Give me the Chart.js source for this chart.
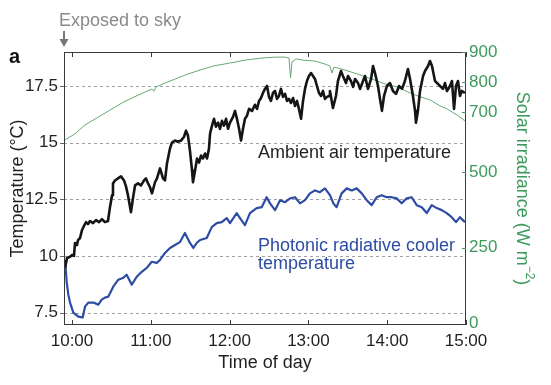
<!DOCTYPE html>
<html>
<head>
<meta charset="utf-8">
<script src="https://cdn.jsdelivr.net/npm/chart.js@4.4.0/dist/chart.umd.min.js"></script>
<style>
  body { margin: 0; background: #fff; }
  #wrap { width: 551px; height: 385px; }
</style>
</head>
<body>
<div id="wrap"><canvas id="coolerChart" width="551" height="385"></canvas></div>
<script>
// minutes after 10:00
const ambientMinutes = [-5.3, -3.8, -1.5, 0, 1.5, 2.3, 3.8, 4.6, 6.1, 7.6,
    9.1, 10.7, 12.2, 13.7, 16.0, 18.3, 20.6, 22.8, 25.1, 27.4,
    28.9, 30.5, 31.2, 32.7, 35.0, 37.3, 39.6, 41.1, 42.6, 44.9,
    46.4, 48.0, 50.3, 52.5, 54.8, 56.3, 57.9, 59.4, 60.9, 63.2,
    64.7, 67.0, 69.3, 70.8, 72.3, 74.6, 76.1, 78.4, 80.7, 83.0,
    85.3, 86.8, 88.3, 89.8, 91.4, 92.1, 93.7, 95.2, 96.7, 98.2,
    99.7, 101.3, 102.8, 104.3, 105.1, 106.6, 108.1, 109.6, 111.2, 112.7,
    114.2, 115.7, 117.3, 118.8, 120.3, 122.6, 124.1, 125.6, 127.2, 128.7,
    130.2, 131.7, 133.2, 134.8, 137.1, 139.3, 140.9, 142.4, 143.9, 145.4,
    146.9, 148.5, 150.0, 151.5, 153.0, 154.6, 156.1, 157.6, 159.1, 160.7,
    162.2, 163.7, 165.2, 166.7, 168.3, 169.8, 171.3, 172.8, 174.4, 175.9,
    177.4, 178.9, 180.4, 182.0, 183.5, 185.0, 186.5, 188.1, 189.6, 191.1,
    192.6, 194.2, 195.7, 196.4, 198.7, 201.0, 202.5, 204.8, 206.3, 208.6,
    210.1, 212.4, 214.0, 215.5, 217.8, 219.3, 221.6, 223.1, 225.4, 227.7,
    229.2, 230.7, 233.0, 234.5, 236.0, 237.6, 239.8, 242.1, 244.4, 246.7,
    249.0, 251.3, 253.5, 255.8, 257.4, 259.6, 261.2, 261.9, 263.4, 265.0,
    267.3, 268.8, 271.1, 272.6, 274.1, 276.4, 278.7, 280.2, 282.5, 284.0,
    285.5, 287.8, 289.3, 290.9, 292.4, 293.9, 295.4, 296.9, 299.2];
const ambientTemp = [9.47, 9.91, 9.96, 10.04, 10.00, 10.57, 10.48, 10.70, 10.79, 11.14,
    11.32, 11.49, 11.40, 11.54, 11.45, 11.58, 11.49, 11.62, 11.49, 11.54,
    12.15, 12.68, 13.20, 13.33, 13.42, 13.51, 13.33, 13.07, 12.68, 11.93,
    12.54, 13.11, 13.20, 13.11, 13.33, 13.42, 13.20, 13.03, 12.76, 13.25,
    13.42, 13.86, 13.42, 13.33, 14.08, 14.74, 15.00, 15.09, 15.04, 15.09,
    15.26, 15.53, 15.31, 14.65, 13.77, 13.25, 13.77, 14.30, 14.12, 14.43,
    14.30, 14.52, 14.30, 14.74, 15.39, 15.75, 16.05, 15.70, 15.88, 15.61,
    15.96, 15.75, 16.05, 15.61, 15.88, 16.14, 16.40, 16.05, 15.61, 15.09,
    15.61, 16.05, 16.18, 16.49, 16.40, 16.67, 16.49, 16.84, 16.97, 17.19,
    17.37, 17.50, 17.02, 16.84, 17.19, 17.28, 16.93, 17.06, 17.37, 17.02,
    17.15, 16.84, 16.93, 16.75, 16.97, 16.62, 16.84, 16.49, 16.05, 16.84,
    17.37, 17.72, 17.94, 18.07, 17.94, 17.81, 17.50, 17.19, 17.06, 17.28,
    16.93, 17.02, 17.06, 17.28, 16.53, 17.06, 17.72, 18.16, 17.94, 17.63,
    17.94, 17.72, 17.46, 17.81, 17.63, 17.37, 17.72, 17.94, 17.37, 17.81,
    18.38, 18.07, 17.50, 16.93, 16.40, 17.06, 17.50, 17.63, 17.28, 17.15,
    17.50, 17.37, 17.72, 18.25, 17.81, 17.06, 16.40, 15.88, 16.40, 17.28,
    17.94, 18.16, 18.38, 18.60, 18.38, 17.72, 17.59, 17.50, 17.37, 17.63,
    17.28, 17.50, 17.72, 16.49, 17.50, 17.72, 17.06, 17.28, 17.19];

const coolerMinutes = [-5.3, -4.0, -2.8, -1.5, 1.0, 4.8, 8.1, 9.9, 12.4, 16.2,
    20.0, 22.6, 25.1, 27.6, 31.4, 35.3, 39.1, 41.6, 45.5, 49.3,
    53.1, 56.9, 60.7, 64.5, 67.0, 70.8, 74.6, 78.4, 82.2, 86.0,
    89.8, 92.4, 94.9, 97.5, 102.6, 106.4, 110.2, 114.0, 117.8, 120.3,
    125.4, 127.9, 131.7, 135.5, 140.6, 144.4, 148.2, 150.8, 154.6, 158.4,
    162.2, 166.0, 169.8, 173.6, 177.4, 181.2, 185.0, 188.8, 192.6, 196.4,
    199.0, 201.5, 205.3, 209.2, 213.0, 216.8, 220.6, 224.4, 228.2, 232.0,
    235.8, 239.6, 243.4, 247.2, 251.0, 254.8, 258.6, 262.5, 266.3, 270.1,
    273.9, 277.7, 281.5, 285.3, 289.1, 292.4, 295.4, 299.2];
const coolerTemp = [9.82, 8.82, 8.29, 7.94, 7.50, 7.32, 7.28, 7.76, 7.94, 7.94,
    7.85, 8.07, 8.16, 8.20, 8.64, 8.95, 9.04, 9.17, 8.73, 9.08,
    9.30, 9.47, 9.74, 9.69, 9.82, 10.13, 10.35, 10.48, 10.61, 11.01,
    10.57, 10.35, 10.57, 10.70, 10.79, 11.27, 11.45, 11.49, 11.67, 11.45,
    11.89, 11.67, 11.36, 11.89, 12.11, 12.15, 12.59, 12.32, 12.02, 12.46,
    12.37, 12.54, 12.59, 12.32, 12.46, 12.76, 12.89, 12.81, 12.98, 12.68,
    12.32, 12.15, 12.76, 12.98, 12.89, 12.98, 12.76, 12.46, 12.24, 12.59,
    12.68, 12.59, 12.59, 12.54, 12.32, 12.54, 12.59, 12.24, 12.15, 11.89,
    12.24, 12.11, 12.02, 11.89, 11.71, 11.49, 11.71, 11.49];

const solarMinutes = [-5.3, 2.3, 9.9, 19.0, 28.9, 38.1, 48.0, 55.6, 60.9, 62.4,
    64.0, 70.8, 78.4, 88.3, 97.5, 108.1, 119.9, 131.7, 144.7, 154.6,
    162.2, 165.2, 166.4, 167.5, 170.6, 175.9, 185.0, 192.6, 196.4, 198.0,
    199.5, 207.9, 219.3, 228.4, 238.3, 247.5, 257.4, 265.0, 272.6, 280.2,
    285.5, 289.3, 293.1, 296.2, 299.2];
const solarIrradiance = [608, 628, 658, 681, 707, 731, 752, 767, 777, 770,
    784, 797, 810, 827, 840, 854, 863, 873, 880, 883,
    883, 880, 814, 867, 877, 873, 870, 860, 853, 830,
    850, 840, 824, 810, 794, 784, 764, 751, 741, 721,
    711, 701, 691, 681, 671];

const timeTicks = [0, 60, 120, 180, 240, 300];
const tempTicks = [7.5, 10, 12.5, 15, 17.5];
const solarTicks = [0, 250, 500, 700, 800, 900];

const FONT = '"Liberation Sans", Arial, sans-serif';
const GREEN = '#3e9a5c';
const BLUE = '#2d4da5';
const TEXT = '#231f20';

function pairs(xs, ys) {
    return xs.map((x, i) => ({ x: x, y: ys[i] }));
}

// gridlines, frame, ticks and text labels
const overlay = {
    id: 'overlay',
    beforeDatasetsDraw(chart) {
        const { ctx, chartArea: a, scales } = chart;
        ctx.save();
        ctx.strokeStyle = '#a0a0a0';
        ctx.lineWidth = 1;
        ctx.setLineDash([3, 3]);
        tempTicks.forEach(v => {
            const y = Math.round(scales.y.getPixelForValue(v)) + 0.5;
            ctx.beginPath();
            ctx.moveTo(a.left, y);
            ctx.lineTo(a.right, y);
            ctx.stroke();
        });
        ctx.restore();
    },
    afterDraw(chart) {
        const { ctx, chartArea: a, scales } = chart;
        ctx.save();
        // frame
        ctx.strokeStyle = '#3a3a3a';
        ctx.lineWidth = 1;
        ctx.strokeRect(a.left + 0.5, a.top + 0.5, a.right - a.left - 1, a.bottom - a.top - 1);

        // time ticks, pointing inwards top and bottom
        timeTicks.forEach(v => {
            const x = Math.round(scales.x.getPixelForValue(v)) + 0.5;
            ctx.beginPath();
            ctx.moveTo(x, a.bottom); ctx.lineTo(x, a.bottom - 5);
            ctx.moveTo(x, a.top); ctx.lineTo(x, a.top + 5);
            ctx.stroke();
        });
        // temperature ticks, outwards
        ctx.strokeStyle = '#666';
        tempTicks.forEach(v => {
            const y = Math.round(scales.y.getPixelForValue(v)) + 0.5;
            ctx.beginPath();
            ctx.moveTo(a.left - 4, y); ctx.lineTo(a.left, y);
            ctx.stroke();
        });
        // irradiance ticks, inwards
        ctx.strokeStyle = GREEN;
        solarTicks.slice(1).forEach(v => {
            const y = Math.round(scales.y2.getPixelForValue(v)) + 0.5;
            ctx.beginPath();
            ctx.moveTo(a.right - 4, y); ctx.lineTo(a.right, y);
            ctx.stroke();
        });

        // right axis title with superscript
        ctx.translate(522, (a.top + a.bottom) / 2);
        ctx.rotate(Math.PI / 2);
        ctx.fillStyle = GREEN;
        ctx.textBaseline = 'middle';
        const main = 'Solar irradiance (W m', sup = '\u22122', end = ')';
        ctx.font = '18px ' + FONT;
        const wMain = ctx.measureText(main).width, wEnd = ctx.measureText(end).width;
        ctx.font = '12px ' + FONT;
        const wSup = ctx.measureText(sup).width;
        let tx = -(wMain + wSup + wEnd) / 2;
        ctx.font = '18px ' + FONT;
        ctx.fillText(main, tx, 0);
        tx += wMain;
        ctx.font = '12px ' + FONT;
        ctx.fillText(sup, tx, -7);
        tx += wSup;
        ctx.font = '18px ' + FONT;
        ctx.fillText(end, tx, 0);
        ctx.setTransform(1, 0, 0, 1, 0, 0);

        // panel letter and exposure marker
        ctx.textBaseline = 'alphabetic';
        ctx.fillStyle = '#111';
        ctx.font = 'bold 20px ' + FONT;
        ctx.fillText('a', 9, 63);
        ctx.fillStyle = '#8a8a8a';
        ctx.font = '18px ' + FONT;
        ctx.fillText('Exposed to sky', 59, 26);
        ctx.fillStyle = '#777';
        ctx.fillRect(a.left - 1, 31, 2, 9);
        ctx.beginPath();
        ctx.moveTo(a.left - 4.5, 39); ctx.lineTo(a.left + 4.5, 39); ctx.lineTo(a.left, 47);
        ctx.closePath();
        ctx.fill();

        // series labels
        const lx = scales.x.getPixelForValue(141.6);
        ctx.fillStyle = TEXT;
        ctx.fillText('Ambient air temperature', lx, scales.y.getPixelForValue(14.3));
        ctx.fillStyle = BLUE;
        ctx.fillText('Photonic radiative cooler', lx, scales.y.getPixelForValue(10.22));
        ctx.fillText('temperature', lx, scales.y.getPixelForValue(9.4));
        ctx.restore();
    }
};

const ctx = document.getElementById('coolerChart').getContext('2d');
const chart = new Chart(ctx, {
    type: 'line',
    data: {
        datasets: [
            {
                label: 'Ambient air temperature',
                data: pairs(ambientMinutes, ambientTemp),
                yAxisID: 'y',
                borderColor: '#151515',
                borderWidth: 2.6,
                borderJoinStyle: 'round',
                pointRadius: 0
            },
            {
                label: 'Photonic radiative cooler temperature',
                data: pairs(coolerMinutes, coolerTemp),
                yAxisID: 'y',
                borderColor: BLUE,
                borderWidth: 2.2,
                borderJoinStyle: 'round',
                pointRadius: 0
            },
            {
                label: 'Solar irradiance',
                data: pairs(solarMinutes, solarIrradiance),
                yAxisID: 'y2',
                borderColor: '#66aa70',
                borderWidth: 1,
                pointRadius: 0
            }
        ]
    },
    options: {
        responsive: false,
        animation: false,
        devicePixelRatio: 1,
        layout: { padding: { top: 52, left: 0, right: 0, bottom: 0 } },
        plugins: { legend: { display: false }, tooltip: { enabled: false } },
        scales: {
            x: {
                type: 'linear',
                min: -6.1,
                max: 300,
                afterBuildTicks: s => { s.ticks = timeTicks.map(v => ({ value: v })); },
                afterFit: s => { s.height = 60; },
                grid: { display: false, drawTicks: false },
                border: { display: false },
                ticks: {
                    color: TEXT, padding: 6, maxRotation: 0, autoSkip: false,
                    font: { family: FONT, size: 17 },
                    callback: v => (10 + v / 60) + ':00'
                },
                title: {
                    display: true, text: 'Time of day', color: TEXT,
                    font: { family: FONT, size: 18 }, padding: { top: 0, bottom: 11 }
                }
            },
            y: {
                position: 'left',
                min: 6.95,
                max: 19,
                afterBuildTicks: s => { s.ticks = tempTicks.map(v => ({ value: v })); },
                afterFit: s => { s.width = 64; },
                grid: { display: false, drawTicks: false },
                border: { display: false },
                ticks: { color: TEXT, padding: 6, font: { family: FONT, size: 17 } },
                title: {
                    display: true, text: 'Temperature (°C)', color: TEXT,
                    font: { family: FONT, size: 18 }, padding: { top: 7, bottom: 0 }
                }
            },
            y2: {
                position: 'right',
                min: -7,
                max: 900,
                afterBuildTicks: s => { s.ticks = solarTicks.map(v => ({ value: v })); },
                afterFit: s => { s.width = 85; },
                grid: { display: false, drawTicks: false },
                border: { display: false },
                ticks: { color: GREEN, padding: 3, font: { family: FONT, size: 17 } }
            }
        }
    },
    plugins: [overlay]
});
</script>
</body>
</html>
